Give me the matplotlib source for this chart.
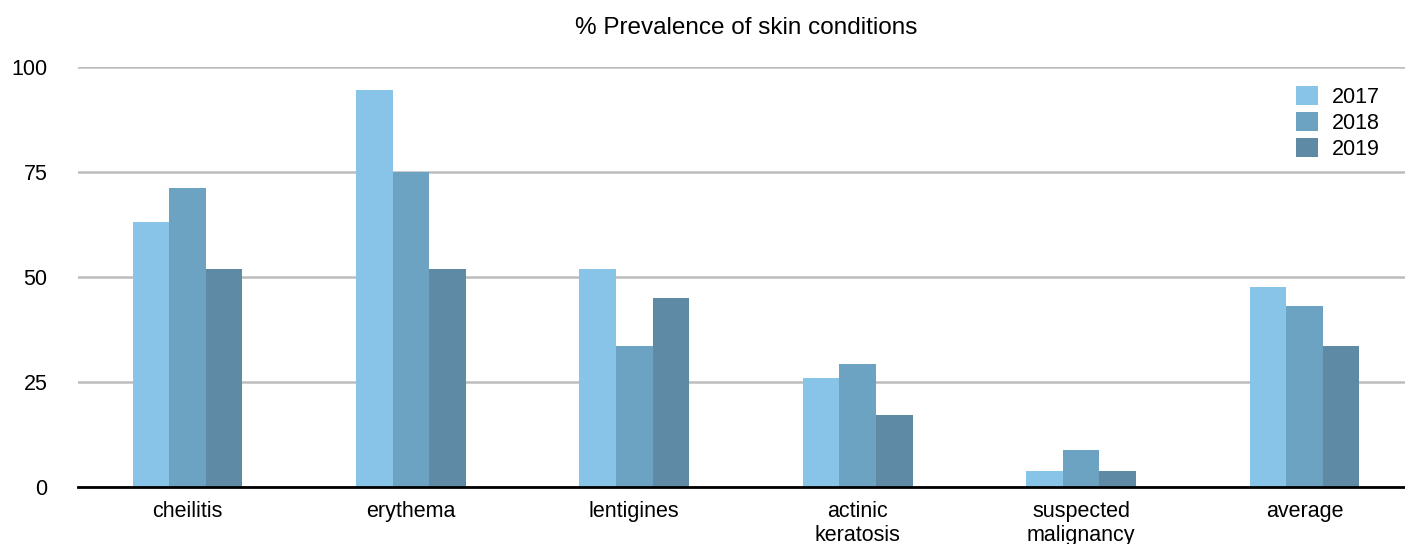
import numpy as np
import matplotlib.pyplot as plt

categories = ['cheilitis', 'erythema', 'lentigines', 'actinic\nkeratosis',
              'suspected\nmalignancy', 'average']
years = ['2017', '2018', '2019']
v2017 = [63, 94.5, 52, 26, 3.8, 47.6]
v2018 = [71.2, 75, 33.6, 29.3, 8.8, 43.1]
v2019 = [52, 52, 45, 17.1, 3.8, 33.6]
yticks = [0, 25, 50, 75, 100]

colors = ['#88c3e8', '#6ca2c2', '#5e8aa6']

plt.rcParams['font.family'] = ['Liberation Sans', 'DejaVu Sans']

W, H = 1405, 544
fig = plt.figure(figsize=(W / 100, H / 100), dpi=100)
ax = fig.add_axes([78 / W, 57 / H, (W - 78) / W, 420 / H])

x = np.arange(len(categories))
w = 0.164
for i, (vals, lab) in enumerate(zip([v2017, v2018, v2019], years)):
    ax.bar(x + (i - 1) * w, vals, w, color=colors[i], label=lab, zorder=3)

ax.set_xlim(-0.49, 5.45)
ax.set_ylim(0, 100)
ax.set_yticks(yticks)
ax.set_yticklabels([str(t) for t in yticks], fontsize=15.5)
ax.set_xticks(x)
ax.set_xticklabels(categories, fontsize=15.5, linespacing=1.2, va='top')
ax.tick_params(axis='y', length=0, pad=22)
ax.tick_params(axis='x', length=0, pad=10)
ax.grid(axis='y', color='#bdbdbd', linewidth=1.8, zorder=0)
for s in ['top', 'right', 'left']:
    ax.spines[s].set_visible(False)
ax.spines['bottom'].set_color('black')
ax.spines['bottom'].set_linewidth(2)
ax.spines['bottom'].set_zorder(4)

fig.text(746 / W, 1 - 28 / H, '% Prevalence of skin conditions',
         ha='center', va='center', fontsize=17.5)

ax.legend(loc='upper left', bbox_to_anchor=(1296 / W, 1 - 86 / H),
          bbox_transform=fig.transFigure, frameon=False, fontsize=15.5,
          handlelength=1.0, handleheight=0.95, handletextpad=0.65,
          labelspacing=0.2, borderpad=0, borderaxespad=0)

fig.savefig('out.png', dpi=100)
